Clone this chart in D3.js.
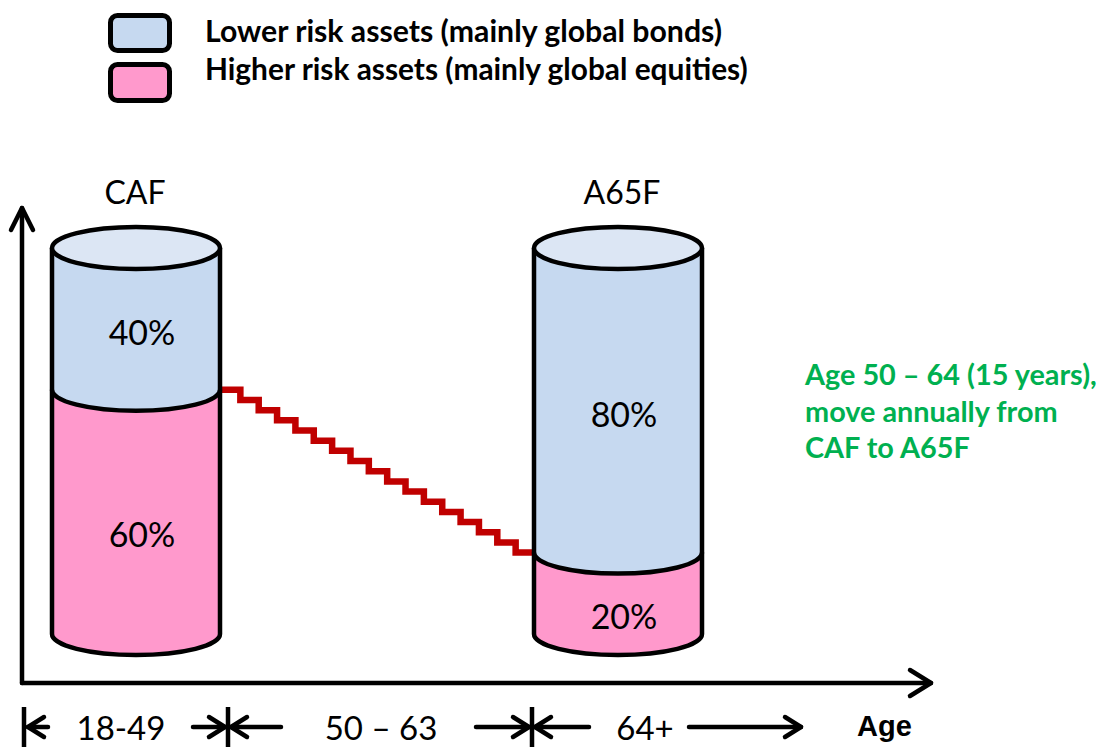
<!DOCTYPE html>
<html>
<head>
<meta charset="utf-8">
<script src="https://cdn.jsdelivr.net/npm/d3@7"></script>
<style>
  html, body { margin: 0; padding: 0; background: #fff; }
  svg { display: block; }
</style>
</head>
<body>
<svg id="chart" width="1116" height="747"></svg>
<script>
// Fund mix: share of each fund held in lower / higher risk assets (%)
const funds = ["CAF", "A65F"];
const lowerRiskPct = [40, 80];
const higherRiskPct = [60, 20];
const legendLabels = ["Lower risk assets (mainly global bonds)", "Higher risk assets (mainly global equities)"];
// Yearly de-risking steps between the two funds (higher risk share, %)
const glidePathEquity = [60, 57.5, 55, 52.5, 50, 47.5, 45, 42.5, 40, 37.5, 35, 32.5, 30, 27.5, 25, 22.5, 20];
const ageBands = ["18-49", "50 – 63", "64+"];
const axisLabel = "Age";
const noteLines = ["Age 50 – 64 (15 years),", "move annually from", "CAF to A65F"];

const colors = {
  lower: "#c6d9f0",
  lowerTop: "#dce6f4",
  higher: "#ff99cc",
  glide: "#c00000",
  note: "#00b050",
  ink: "#000"
};
const bodyFont = "Lato, 'Noto Sans', sans-serif";
const strokeW = 4.5;

const svg = d3.select("#chart");

// Scales
const x = d3.scalePoint().domain(funds).range([136, 618]);
const y = d3.scaleLinear().domain([0, 100]).range([634, 227]);
const rx = 84, ry = 21;

function fitFont(sel, target) {
  const len = sel.node().getComputedTextLength();
  const fs = parseFloat(sel.attr("font-size"));
  return fs * target / len;
}

// ---- Legend ----
const legend = svg.append("g");
const legendFill = [colors.lower, colors.higher];
const legendRects = [{y: 15.5, h: 35}, {y: 64.5, h: 36}];
const legendBase = [42, 80];
legendLabels.forEach((lab, i) => {
  legend.append("rect")
    .attr("x", 110.5).attr("y", legendRects[i].y)
    .attr("width", 59).attr("height", legendRects[i].h)
    .attr("rx", 7)
    .attr("fill", legendFill[i])
    .attr("stroke", colors.ink).attr("stroke-width", 5);
  const t = legend.append("text")
    .attr("x", 205).attr("y", legendBase[i])
    .attr("font-family", bodyFont).attr("font-weight", 700)
    .attr("font-size", 26)
    .attr("fill", colors.ink)
    .text(lab);
  t.attr("font-size", fitFont(t, i === 0 ? 517 : 543));
});

// ---- Axes ----
const axes = svg.append("g")
  .attr("fill", "none").attr("stroke", colors.ink)
  .attr("stroke-width", strokeW).attr("stroke-linecap", "round").attr("stroke-linejoin", "round");
const ax0 = 22, ay0 = 683;
axes.append("path").attr("d", `M${ax0},${ay0} L${ax0},208`);
axes.append("path").attr("d", `M${ax0 - 11},230 L${ax0},208 L${ax0 + 11},230`);
axes.append("path").attr("d", `M${ax0},${ay0} L931,${ay0}`);
axes.append("path").attr("d", `M910,${ay0 - 13} L931,${ay0} L910,${ay0 + 13}`);

// ---- Glide path (annual switching from CAF to A65F) ----
const n = glidePathEquity.length;
const xStep = d3.scaleLinear().domain([0, n]).range([x("CAF") + rx + 2, x("A65F") - rx]);
const stepPts = glidePathEquity.map((v, i) => [i, v]).concat([[n, glidePathEquity[n - 1]]]);
const stepLine = d3.line().x(d => xStep(d[0])).y(d => y(d[1])).curve(d3.curveStepAfter);
svg.append("path")
  .attr("d", stepLine(stepPts))
  .attr("fill", "none")
  .attr("stroke", colors.glide)
  .attr("stroke-width", 6.5);

// ---- Cylinders ----
funds.forEach((f, i) => {
  const cx = x(f), left = cx - rx, right = cx + rx;
  const yTop = y(100) + ry;
  const yBound = y(higherRiskPct[i]);
  const yBot = y(0);
  const g = svg.append("g");

  g.append("path")
    .attr("d", `M${left},${yTop} L${left},${yBound} A${rx},${ry} 0 0 0 ${right},${yBound} L${right},${yTop} Z`)
    .attr("fill", colors.lower);
  g.append("path")
    .attr("d", `M${left},${yBound} A${rx},${ry} 0 0 0 ${right},${yBound} L${right},${yBot} A${rx},${ry} 0 0 1 ${left},${yBot} Z`)
    .attr("fill", colors.higher);
  g.append("path")
    .attr("d", `M${left},${yTop} L${left},${yBot} A${rx},${ry} 0 0 0 ${right},${yBot} L${right},${yTop}`)
    .attr("fill", "none").attr("stroke", colors.ink).attr("stroke-width", strokeW);
  g.append("path")
    .attr("d", `M${left},${yBound} A${rx},${ry} 0 0 0 ${right},${yBound}`)
    .attr("fill", "none").attr("stroke", colors.ink).attr("stroke-width", strokeW);
  g.append("ellipse")
    .attr("cx", cx).attr("cy", yTop).attr("rx", rx).attr("ry", ry)
    .attr("fill", colors.lowerTop).attr("stroke", colors.ink).attr("stroke-width", strokeW);

  // value labels
  g.append("text")
    .attr("x", cx + 6).attr("y", (yTop + yBound) / 2 + 13)
    .attr("dominant-baseline", "central").attr("text-anchor", "middle")
    .attr("font-family", bodyFont).attr("font-size", 34).attr("fill", colors.ink)
    .text(lowerRiskPct[i] + "%");
  g.append("text")
    .attr("x", cx + 6).attr("y", (yBound + yBot) / 2 + 22)
    .attr("dominant-baseline", "central").attr("text-anchor", "middle")
    .attr("font-family", bodyFont).attr("font-size", 34).attr("fill", colors.ink)
    .text(higherRiskPct[i] + "%");

  // fund name
  g.append("text")
    .attr("x", cx + (i === 0 ? -1 : 4)).attr("y", 204)
    .attr("text-anchor", "middle")
    .attr("font-family", bodyFont).attr("font-size", 32).attr("fill", colors.ink)
    .text(f);
});

// ---- Age bands along the bottom ----
const rowY = 727;
const marks = svg.append("g")
  .attr("fill", "none").attr("stroke", colors.ink)
  .attr("stroke-width", strokeW).attr("stroke-linecap", "round").attr("stroke-linejoin", "round");
function bar(xp) {
  marks.append("path").attr("d", `M${xp},707 L${xp},747`).attr("stroke-linecap", "butt");
}
function arrowLeft(tip, tail) {
  marks.append("path").attr("d", `M${tail},${rowY} L${tip},${rowY}`);
  marks.append("path").attr("d", `M${tip + 16},${rowY - 10} L${tip},${rowY} L${tip + 16},${rowY + 10}`);
}
function arrowRight(tail, tip) {
  marks.append("path").attr("d", `M${tail},${rowY} L${tip},${rowY}`);
  marks.append("path").attr("d", `M${tip - 16},${rowY - 10} L${tip},${rowY} L${tip - 16},${rowY + 10}`);
}
bar(24);  arrowLeft(28, 48);
arrowRight(193, 225); bar(228); arrowLeft(231, 281);
arrowRight(476, 529); bar(532); arrowLeft(535, 589);
arrowRight(689, 801);

const bandPos = [{x: 121, y: 740}, {x: 381, y: 740}, {x: 645, y: 740}];
ageBands.forEach((lab, i) => {
  svg.append("text")
    .attr("x", bandPos[i].x).attr("y", bandPos[i].y)
    .attr("text-anchor", "middle")
    .attr("font-family", bodyFont).attr("font-size", 33).attr("fill", colors.ink)
    .text(lab);
});
svg.append("text")
  .attr("x", 857).attr("y", 736)
  .attr("font-family", "'Liberation Sans', Arial, sans-serif").attr("font-weight", 700)
  .attr("font-size", 29).attr("fill", colors.ink)
  .text(axisLabel);

// ---- Note ----
const noteBase = [385, 422, 458];
const first = svg.append("text")
  .attr("x", 805).attr("y", noteBase[0])
  .attr("font-family", bodyFont).attr("font-weight", 700)
  .attr("font-size", 30).attr("fill", colors.note)
  .text(noteLines[0]);
const noteSize = fitFont(first, 292);
first.attr("font-size", noteSize);
noteLines.slice(1).forEach((line, i) => {
  svg.append("text")
    .attr("x", 805).attr("y", noteBase[i + 1])
    .attr("font-family", bodyFont).attr("font-weight", 700)
    .attr("font-size", noteSize).attr("fill", colors.note)
    .text(line);
});
</script>
</body>
</html>
